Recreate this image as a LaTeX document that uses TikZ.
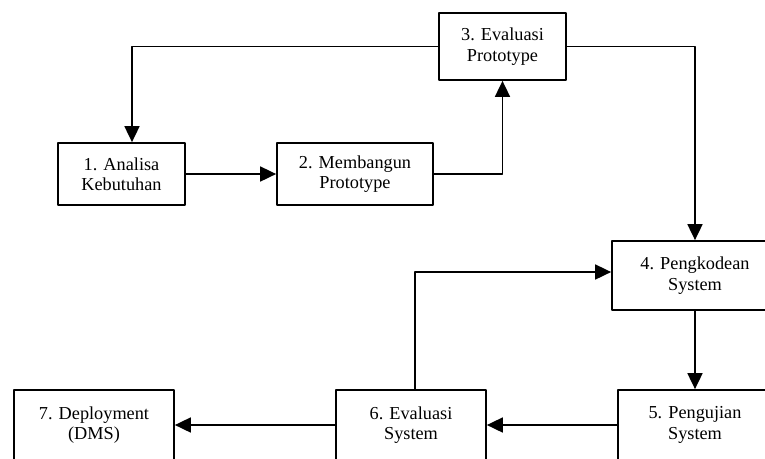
\documentclass[tikz,border=0pt]{standalone}
\usepackage{fontspec}
\setmainfont{Liberation Serif}
\usetikzlibrary{arrows.meta}
\tikzset{
  every picture/.style={line join=round, >={Triangle[length=0.32cm,width=0.3cm]}},
  tahap/.style={draw, line width=1pt, align=center, inner sep=2pt,
    font=\fontsize{10.4}{11.6}\selectfont},
  alur/.style={->, line width=1pt},
}

\begin{document}
\begin{tikzpicture}[x=0.02cm,y=-0.02cm]
\clip (0,0) rectangle (765,458);
% tahap prototyping
\node[tahap, minimum width=2.54cm, minimum height=1.24cm] (analisa) at (121.5,174) {1. Analisa\\Kebutuhan};
\node[tahap, minimum width=3.12cm, minimum height=1.24cm] (bangun) at (355,174) {2. Membangun\\Prototype};
\node[tahap, minimum width=2.54cm, minimum height=1.34cm] (evalproto) at (502.5,46.5) {3. Evaluasi\\Prototype};
% tahap sistem
\node[tahap, minimum width=3.32cm, minimum height=1.38cm] (kode) at (695,275.5) {4. Pengkodean\\System};
\node[tahap, minimum width=3.08cm, minimum height=1.4cm] (uji) at (695,425) {5. Pengujian\\System};
\node[tahap, minimum width=3.0cm, minimum height=1.4cm] (evalsys) at (411,425) {6. Evaluasi\\System};
\node[tahap, minimum width=3.2cm, minimum height=1.4cm] (deploy) at (94,425) {7. Deployment\\(DMS)};
\coordinate (balik) at (132,46.5);
\coordinate (naik) at (415,272);

\draw[alur] (evalproto.west) -- (balik) -- (analisa.north -| balik);
\draw[alur] (analisa) -- (bangun);
\draw[alur] (bangun.east) -| (evalproto.south);
\draw[alur] (evalproto.east) -| (kode.north);
\draw[alur] (kode) -- (uji);
\draw[alur] (uji) -- (evalsys);
\draw[alur] (evalsys.north -| naik) -- (naik) -- (naik -| kode.west);
\draw[alur] (evalsys) -- (deploy);
\end{tikzpicture}
\end{document}
